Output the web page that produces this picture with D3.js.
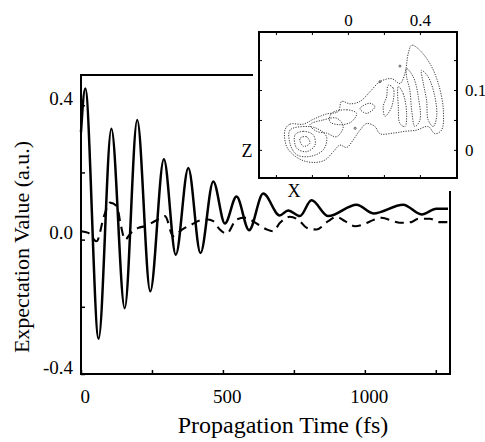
<!DOCTYPE html>
<html>
<head>
<meta charset="utf-8">
<script src="https://cdn.jsdelivr.net/npm/d3@7"></script>
<style>
  body { margin: 0; background: #fff; }
  text { font-family: "Liberation Serif", "Times New Roman", serif; fill: #000; }
</style>
</head>
<body>
<svg id="chart" width="485" height="442"></svg>
<script>
// ---- main plot data: expectation values vs propagation time (fs)
const solidTime = [0, 15, 62, 107, 154, 198, 244, 292, 334, 378, 421, 466, 507, 548, 592, 642, 700, 730, 771, 812, 871, 971, 1030, 1135, 1200, 1252, 1293];
const solidValue = [0.32, 0.45, -0.295, 0.33, -0.204, 0.356, -0.154, 0.239, -0.045, 0.213, -0.04, 0.173, 0.048, 0.128, 0.028, 0.137, 0.072, 0.087, 0.07, 0.117, 0.07, 0.104, 0.078, 0.104, 0.075, 0.092, 0.092];

const dashTime = [0, 26, 55, 81, 102, 126, 141, 155, 176, 202, 225, 249, 271, 296, 325, 356, 390, 419, 448, 466, 489, 513, 548, 577, 624, 655, 677, 701, 736, 771, 795, 830, 871, 900, 930, 965, 994, 1029, 1059, 1100, 1123, 1164, 1188, 1229, 1264, 1293];
const dashValue = [0.025, 0.02, -0.005, 0.07, 0.11, 0.1, 0.04, 0.0, 0.02, 0.035, 0.04, 0.05, 0.06, 0.07, 0.01, 0.03, 0.045, 0.057, 0.06, 0.055, 0.03, 0.018, 0.06, 0.065, 0.045, 0.03, 0.025, 0.05, 0.068, 0.055, 0.035, 0.03, 0.055, 0.068, 0.055, 0.04, 0.045, 0.058, 0.065, 0.055, 0.05, 0.052, 0.062, 0.062, 0.052, 0.052];

const xTicks = [0, 250, 500, 750, 1000, 1250];
const xTickLabels = ["0", "", "500", "", "1000", ""];
const yTicks = [-0.4, -0.2, 0, 0.2, 0.4];
const yTickLabels = ["-0.4", "", "0.0", "", "0.4"];

// ---- inset data: density contours in the X-Z plane, each loop is [X, Z] points
const contourOuter = [[-0.35, 0.033], [-0.322, 0.043], [-0.248, 0.043], [-0.193, 0.051], [-0.119, 0.06], [-0.054, 0.064], [-0.035, 0.081], [0.011, 0.077], [0.067, 0.081], [0.122, 0.097], [0.178, 0.114], [0.243, 0.119], [0.289, 0.111], [0.317, 0.128], [0.335, 0.161], [0.354, 0.175], [0.391, 0.169], [0.456, 0.144], [0.502, 0.111], [0.53, 0.067], [0.52, 0.033], [0.483, 0.027], [0.446, 0.039], [0.381, 0.033], [0.317, 0.031], [0.252, 0.028], [0.178, 0.027], [0.15, 0.039], [0.104, 0.044], [0.067, 0.033], [0.03, 0.017], [-0.007, 0.004], [-0.044, 0.008], [-0.081, -0.003], [-0.128, -0.017], [-0.183, -0.021], [-0.248, -0.018], [-0.304, -0.008], [-0.341, 0.006]];
const contourFingerA = [[0.409, 0.133], [0.446, 0.122], [0.483, 0.089], [0.493, 0.056], [0.474, 0.039], [0.446, 0.05], [0.437, 0.083], [0.419, 0.111]];
const contourFingerB = [[0.326, 0.136], [0.363, 0.122], [0.391, 0.089], [0.4, 0.05], [0.372, 0.039], [0.354, 0.067], [0.344, 0.1], [0.326, 0.122]];
const contourFingerC = [[0.28, 0.106], [0.307, 0.094], [0.326, 0.061], [0.317, 0.039], [0.289, 0.044], [0.28, 0.072]];
const contourFingerD = [[0.224, 0.108], [0.252, 0.103], [0.243, 0.072], [0.206, 0.056], [0.196, 0.072], [0.215, 0.089]];
const contourMid = [[0.067, 0.069], [0.122, 0.078], [0.15, 0.072], [0.104, 0.061]];
const contourBlob1 = [[-0.322, 0.033], [-0.248, 0.039], [-0.174, 0.036], [-0.119, 0.022], [-0.137, 0], [-0.211, -0.011], [-0.285, -0.008], [-0.322, 0.011]];
const contourBlob2 = [[-0.294, 0.025], [-0.248, 0.031], [-0.193, 0.025], [-0.183, 0.008], [-0.23, -0.003], [-0.285, 0.003]];
const contourBlob3 = [[-0.267, 0.019], [-0.23, 0.022], [-0.211, 0.011], [-0.248, 0.006]];
const contourBlob4 = [[-0.211, 0.042], [-0.137, 0.05], [-0.063, 0.053], [-0.026, 0.039], [-0.063, 0.022], [-0.119, 0.028], [-0.174, 0.031]];
const contourBlob5 = [[-0.091, 0.061], [-0.007, 0.067], [0.048, 0.061], [0.02, 0.047], [-0.044, 0.042], [-0.1, 0.047]];
const contourSpots = [[0.178, 0.114], [0.04, 0.036], [0.289, 0.14]];

const insetXTicks = [-0.4, -0.2, 0, 0.2, 0.4];
const insetXTickLabels = ["", "", "0", "", "0.4"];
const insetZTicks = [0, 0.05, 0.1, 0.15];
const insetZTickLabels = ["0", "", "0.1", ""];

// ---- scales
const svg = d3.select('#chart');
const x = d3.scaleLinear().domain([0, 1300]).range([81, 450]);
const y = d3.scaleLinear().domain([-0.4, 0.49]).range([374, 75]);

const ix = d3.scaleLinear().domain([-0.494, 0.606]).range([259, 457]);
const iz = d3.scaleLinear().domain([-0.047, 0.197]).range([178, 32]);

// ---- curves
const solidData = solidTime.map((t, i) => [t, solidValue[i]]);
const dashData = dashTime.map((t, i) => [t, dashValue[i]]);

const line = d3.line()
  .x(d => x(d[0]))
  .y(d => y(d[1]))
  .curve(d3.curveMonotoneX);

svg.append('path')
  .datum(solidData)
  .attr('d', line)
  .attr('fill', 'none')
  .attr('stroke', '#000')
  .attr('stroke-width', 2.5);

svg.append('path')
  .datum(dashData)
  .attr('d', line)
  .attr('fill', 'none')
  .attr('stroke', '#000')
  .attr('stroke-width', 2.1)
  .attr('stroke-dasharray', '9,6');

// ---- main axes (ticks point inward)
const xAxis = d3.axisBottom(x)
  .tickValues(xTicks)
  .tickSize(-4)
  .tickPadding(16)
  .tickFormat((d, i) => xTickLabels[i]);

const yAxis = d3.axisLeft(y)
  .tickValues(yTicks)
  .tickSize(-4)
  .tickPadding(8)
  .tickFormat((d, i) => yTickLabels[i]);

const gx = svg.append('g').attr('transform', 'translate(0,374)').call(xAxis);
const gy = svg.append('g').attr('transform', 'translate(81,0)').call(yAxis);
[gx, gy].forEach(g => {
  g.select('.domain').remove();
  g.selectAll('line').attr('stroke', '#000').attr('stroke-width', 1.5);
  g.selectAll('text').style('font-family', '"Liberation Serif", serif').style('font-size', '19px').attr('fill', '#000');
});
gy.selectAll('text').attr('dy', '-0.05em');
gx.selectAll('text').attr('dx', '0.2em');

// main frame
svg.append('path')
  .attr('d', 'M' + x(1300) + ',' + y(0.49) + 'H' + x(0) + 'V' + y(-0.4) + 'H' + x(1300) + 'Z')
  .attr('fill', 'none')
  .attr('stroke', '#000')
  .attr('stroke-width', 2);

// axis titles
svg.append('text')
  .attr('x', 283).attr('y', 433)
  .attr('text-anchor', 'middle')
  .style('font-size', '24px')
  .text('Propagation Time (fs)');

svg.append('text')
  .attr('transform', 'translate(29,247) rotate(-90)')
  .attr('text-anchor', 'middle')
  .style('font-size', '22px')
  .text('Expectation Value (a.u.)');

// ---- inset
svg.append('rect')
  .attr('x', 253).attr('y', 0)
  .attr('width', 232).attr('height', 191)
  .attr('fill', '#fff');

const contourLine = d3.line()
  .x(d => ix(d[0]))
  .y(d => iz(d[1]))
  .curve(d3.curveCatmullRomClosed.alpha(0.5));

const contours = [contourOuter, contourFingerA, contourFingerB, contourFingerC, contourFingerD, contourMid,
  contourBlob1, contourBlob2, contourBlob3, contourBlob4, contourBlob5];

svg.append('g')
  .selectAll('path')
  .data(contours)
  .join('path')
  .attr('d', contourLine)
  .attr('fill', 'none')
  .attr('stroke', '#222')
  .attr('stroke-width', 0.9)
  .attr('stroke-dasharray', '1.2,1.3');

svg.append('g')
  .selectAll('circle')
  .data(contourSpots)
  .join('circle')
  .attr('cx', d => ix(d[0]))
  .attr('cy', d => iz(d[1]))
  .attr('r', 1)
  .attr('fill', 'none')
  .attr('stroke', '#333')
  .attr('stroke-width', 0.8);

const insetTop = d3.axisTop(ix).tickValues(insetXTicks).tickSize(-3).tickPadding(6)
  .tickFormat((d, i) => insetXTickLabels[i]);
const insetBottom = d3.axisBottom(ix).tickValues(insetXTicks).tickSize(-3).tickFormat('');
const insetRight = d3.axisRight(iz).tickValues(insetZTicks).tickSize(-3).tickPadding(8)
  .tickFormat((d, i) => insetZTickLabels[i]);
const insetLeft = d3.axisLeft(iz).tickValues(insetZTicks).tickSize(-3).tickFormat('');

const ig = [
  svg.append('g').attr('transform', 'translate(0,32)').call(insetTop),
  svg.append('g').attr('transform', 'translate(0,178)').call(insetBottom),
  svg.append('g').attr('transform', 'translate(457,0)').call(insetRight),
  svg.append('g').attr('transform', 'translate(259,0)').call(insetLeft)
];
ig.forEach(g => {
  g.select('.domain').remove();
  g.selectAll('line').attr('stroke', '#000').attr('stroke-width', 1);
  g.selectAll('text').style('font-family', '"Liberation Serif", serif').style('font-size', '17px').attr('fill', '#000');
});

svg.append('rect')
  .attr('x', ix(-0.494)).attr('y', iz(0.197))
  .attr('width', ix(0.606) - ix(-0.494))
  .attr('height', iz(-0.047) - iz(0.197))
  .attr('fill', 'none')
  .attr('stroke', '#000')
  .attr('stroke-width', 2);

svg.append('text')
  .attr('x', 247).attr('y', 157)
  .attr('text-anchor', 'middle')
  .style('font-size', '18px')
  .text('Z');

svg.append('text')
  .attr('x', 294).attr('y', 197)
  .attr('text-anchor', 'middle')
  .style('font-size', '18px')
  .text('X');
</script>
</body>
</html>
